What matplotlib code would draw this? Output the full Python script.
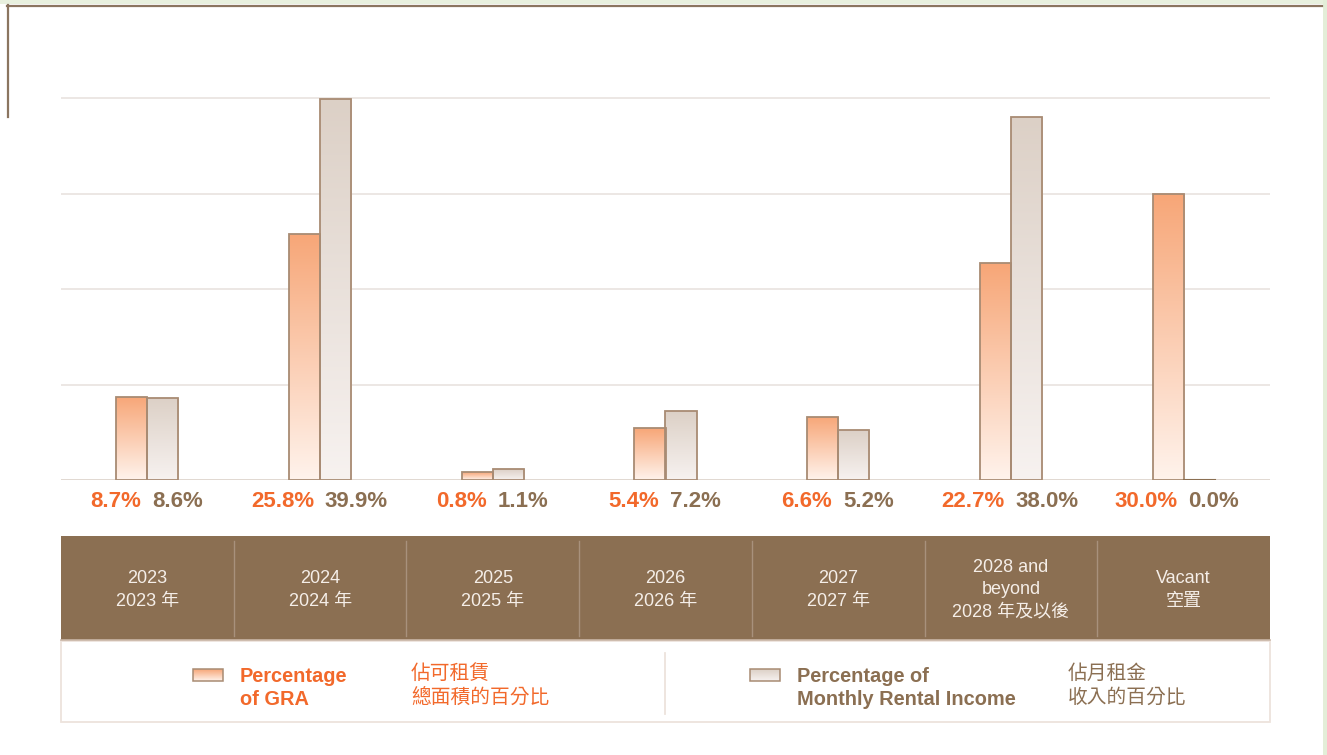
import matplotlib.pyplot as plt
import numpy as np
from matplotlib.colors import LinearSegmentedColormap
from matplotlib.patches import Rectangle
from matplotlib.transforms import blended_transform_factory

# data
categories_en = ['2023', '2024', '2025', '2026', '2027', '2028 and\nbeyond', 'Vacant']
categories_zh = ['2023 年', '2024 年', '2025 年', '2026 年', '2027 年', '2028 年及以後', '空置']
gra_pct = [8.7, 25.8, 0.8, 5.4, 6.6, 22.7, 30.0]
income_pct = [8.6, 39.9, 1.1, 7.2, 5.2, 38.0, 0.0]
grid_ticks = [10, 20, 30, 40]
legend_en = ['Percentage\nof GRA', 'Percentage of\nMonthly Rental Income']
legend_zh = ['佔可租賃\n總面積的百分比', '佔月租金\n收入的百分比']

ORANGE = '#f2692b'
BROWN = '#8b6f52'
EDGE = '#a88b73'
GRA_TOP, GRA_BOT = '#f7a677', '#fff3ec'
INC_TOP, INC_BOT = '#dcd0c6', '#f7f2f0'
FONTS = ['Liberation Sans', 'Noto Sans CJK TC', 'DejaVu Sans']

W, H = 1327, 755
fig = plt.figure(figsize=(W / 100, H / 100), dpi=100, facecolor='white')

# full-figure overlay in pixel coordinates
ov = fig.add_axes([0, 0, 1, 1], zorder=0)
ov.set_xlim(0, W)
ov.set_ylim(H, 0)
ov.axis('off')


def gradient(ax, x0, x1, y0, y1, bottom, top, clip=None, z=1):
    cmap = LinearSegmentedColormap.from_list('g', [bottom, top])
    im = ax.imshow(np.linspace(0, 1, 256).reshape(-1, 1), cmap=cmap,
                   extent=[x0, x1, y0, y1], origin='lower', aspect='auto',
                   interpolation='bilinear', zorder=z)
    if clip is not None:
        im.set_clip_path(clip)
    return im


# page background bits
ov.add_patch(Rectangle((0, 0), W, 4, color='#e8f0de', lw=0))
ov.add_patch(Rectangle((1323, 0), 4, H, color='#e3eed8', lw=0))
ov.plot([7, 1322], [5.5, 5.5], color='#8b7560', lw=1.6)
ov.plot([7.5, 7.5], [5, 117], color='#8b7560', lw=1.6)

# main bar axes
x_left, x_right = 61, 1270
y_base, px_per = 480, 9.55
ymax = 40.6
ax = fig.add_axes([x_left / W, (H - y_base) / H, (x_right - x_left) / W,
                   ymax * px_per / H], zorder=1)
ax.patch.set_alpha(0)
n = len(categories_en)
ax.set_xlim(0, n)
ax.set_ylim(0, ymax)
for s in ax.spines.values():
    s.set_visible(False)
ax.set_xticks([])
ax.set_yticks([])
for t in grid_ticks:
    ax.axhline(t, color='#e9e3df', lw=1.2, zorder=0)
ax.axhline(0, color='#dcd2ca', lw=1.2, zorder=0)

xc = np.arange(n) + 0.5
bw = 0.18
b1 = ax.bar(xc - bw / 2, gra_pct, bw, facecolor='none', edgecolor=EDGE, lw=1.3, zorder=3)
b2 = ax.bar(xc + bw / 2, income_pct, bw, facecolor='none', edgecolor=EDGE, lw=1.3, zorder=3)
for bars, top, bot in [(b1, GRA_TOP, GRA_BOT), (b2, INC_TOP, INC_BOT)]:
    for r in bars:
        x0, h = r.get_x(), r.get_height()
        if h > 0:
            gradient(ax, x0, x0 + r.get_width(), 0, h, bot, top, clip=r, z=2)
        else:
            ax.plot([x0, x0 + r.get_width()], [0, 0], color='#8b6f52', lw=1.5, zorder=3)
ax.set_xlim(0, n)
ax.set_ylim(0, ymax)

for i in range(n):
    ax.text(xc[i] - 0.035, -2.3, f'{gra_pct[i]:.1f}%', ha='right', va='center',
            color=ORANGE, fontsize=16, fontweight='bold', family=FONTS, clip_on=False)
    ax.text(xc[i] + 0.028, -2.3, f'{income_pct[i]:.1f}%', ha='left', va='center',
            color=BROWN, fontsize=16, fontweight='bold', family=FONTS, clip_on=False)

# category band
ov.add_patch(Rectangle((x_left, 536), x_right - x_left, 104, color=BROWN, lw=0))
ov.plot([x_left, x_right], [640, 640], color='#c9b5a6', lw=1.2)
bt = blended_transform_factory(ax.transData, ov.transData)
for k in range(1, n):
    ov.plot([k, k], [541, 636], color='#a8917c', lw=1, transform=bt)
for i in range(n):
    label = categories_en[i] + '\n' + categories_zh[i]
    ov.text(xc[i], 590, label, transform=bt, ha='center', va='center',
            color='#f5eee8', fontsize=13, family=FONTS, linespacing=1.42)

# legend box
ov.add_patch(Rectangle((x_left, 641), x_right - x_left, 81, facecolor='white',
                       edgecolor='#ede3dc', lw=1.3))
ov.plot([665, 665], [653, 714], color='#ede3dc', lw=1.3)

swatches = [(193, GRA_TOP, GRA_BOT, ORANGE, 240, 411),
            (750, INC_TOP, INC_BOT, BROWN, 797, 1068)]
for j, (sx, top, bot, col, tx, zx) in enumerate(swatches):
    gradient(ov, sx, sx + 30, 681, 669, bot, top, z=2)
    ov.add_patch(Rectangle((sx, 669), 30, 12, facecolor='none', edgecolor=EDGE, lw=1.1, zorder=3))
    ov.text(tx, 688, legend_en[j], ha='left', va='center', color=col,
            fontsize=14.4, fontweight='bold', family=FONTS, linespacing=1.3)
    ov.text(zx, 685, legend_zh[j], ha='left', va='center', color=col,
            fontsize=14.2, family=['Noto Sans CJK TC', 'DejaVu Sans'], linespacing=1.18)

fig.savefig('out.png', dpi=100, facecolor='white')
